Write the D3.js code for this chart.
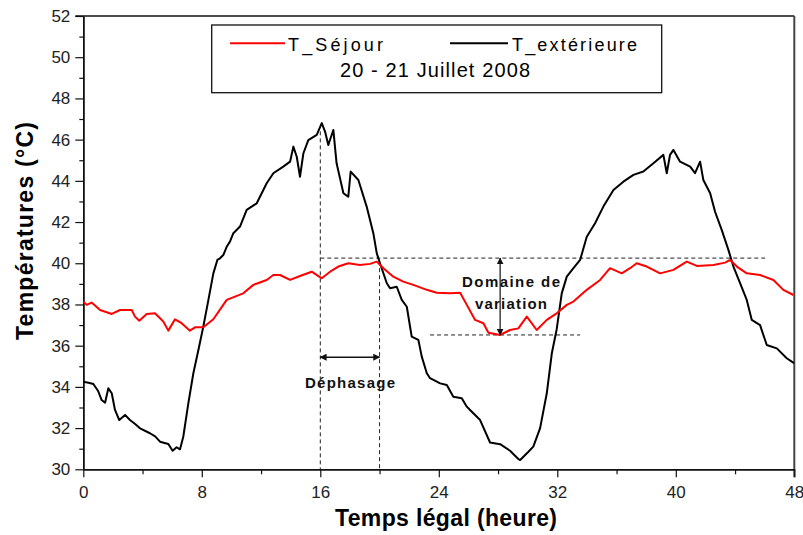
<!DOCTYPE html>
<html>
<head>
<meta charset="utf-8">
<script src="https://cdn.jsdelivr.net/npm/d3@7"></script>
<style>
  html, body { margin: 0; padding: 0; background: #fff; }
  svg { display: block; }
</style>
</head>
<body>
<svg id="chart" width="803" height="535"></svg>
<script>
// ---------------- DATA ----------------
const hoursExt = [0.0,0.35,0.68,1.0,1.24,1.47,1.69,1.92,2.14,2.43,2.82,3.15,3.5,3.83,4.5,4.85,5.18,5.74,6.03,6.3,6.53,6.75,7.09,7.43,7.77,8.1,8.44,8.78,9.05,9.23,9.45,9.68,9.9,10.13,10.58,11.03,11.71,12.38,12.83,13.5,13.96,14.18,14.41,14.63,14.86,15.19,15.76,16.1,16.32,16.54,16.88,17.1,17.56,17.89,18.05,18.57,19.13,19.58,19.81,20.03,20.49,20.71,21.16,21.5,21.84,22.17,22.62,22.85,23.19,23.41,24.09,24.54,24.98,25.55,25.89,26.11,26.79,27.46,28.14,28.81,29.37,29.49,30.05,30.38,30.84,31.29,31.63,31.96,32.3,32.64,33.09,33.54,33.99,34.55,35.11,35.79,36.46,37.14,37.81,38.49,39.16,39.39,39.61,39.84,40.29,40.97,41.3,41.64,41.86,42.32,42.65,43.1,43.55,43.89,44.34,44.79,45.13,45.69,46.14,46.82,47.49,47.98];
const tempExt = [34.25,34.2,34.14,33.8,33.36,33.23,33.93,33.69,32.88,32.39,32.64,32.39,32.2,31.99,31.75,31.6,31.34,31.23,30.9,31.07,30.97,31.58,33.2,34.66,35.79,36.92,38.2,39.51,40.16,40.24,40.4,40.8,41.05,41.46,41.78,42.59,42.91,43.88,44.37,44.69,44.93,45.66,45.17,44.2,45.34,45.98,46.23,46.8,46.39,45.74,46.47,44.85,43.4,43.23,44.45,44.04,42.75,41.46,40.49,40.0,39.03,38.79,38.86,38.22,37.89,36.44,36.28,35.47,34.66,34.42,34.17,34.09,33.52,33.45,33.04,32.88,32.39,31.3,31.22,30.9,30.5,30.45,30.85,31.1,32.0,33.69,35.63,36.8,38.54,39.35,39.76,40.16,41.29,41.94,42.75,43.56,43.96,44.29,44.45,44.85,45.26,44.37,45.26,45.5,44.93,44.69,44.37,44.93,44.04,43.4,42.5,41.62,40.65,39.84,39.03,38.22,37.25,37.0,36.03,35.87,35.39,35.15];

const hoursSej = [0.0,0.23,0.56,1.13,1.92,2.48,3.27,3.49,3.78,4.28,4.84,5.4,5.74,6.19,6.64,7.2,7.54,8.1,8.78,9.68,10.8,11.48,12.38,12.83,13.28,13.96,14.63,15.42,16.1,16.66,17.22,17.89,18.68,19.36,19.81,20.26,20.93,21.6,22.28,23.19,23.86,24.76,25.44,25.89,26.45,27.01,27.35,28.14,28.81,29.37,29.94,30.61,31.29,31.96,32.64,33.09,33.99,34.89,35.56,36.35,36.91,37.36,38.04,38.94,39.84,40.74,41.42,42.54,43.33,43.67,44.12,44.79,45.69,46.59,47.26,47.94];
const tempSej = [38.14,37.98,38.09,37.73,37.54,37.73,37.73,37.41,37.21,37.54,37.57,37.17,36.73,37.28,37.09,36.73,36.89,36.89,37.28,38.22,38.54,38.95,39.19,39.43,39.43,39.19,39.38,39.59,39.27,39.59,39.84,40.0,39.92,39.97,40.08,39.76,39.35,39.11,38.95,38.71,38.57,38.54,38.57,37.98,37.25,37.09,36.63,36.52,36.76,36.84,37.41,36.76,37.25,37.57,37.98,38.14,38.71,39.19,39.76,39.51,39.76,40.0,39.84,39.51,39.68,40.08,39.87,39.92,40.03,40.16,39.84,39.51,39.43,39.19,38.71,38.46];

const xMajorTicks = [0, 8, 16, 24, 32, 40, 48];
const xMinorTicks = [4, 12, 20, 28, 36, 44];
const yMajorTicks = [30, 32, 34, 36, 38, 40, 42, 44, 46, 48, 50, 52];
const yMinorTicks = [31, 33, 35, 37, 39, 41, 43, 45, 47, 49, 51];

const seriesNames = ["T_Séjour", "T_extérieure"];
const legendSubtitle = "20 - 21 Juillet 2008";
const xTitle = "Temps légal (heure)";
const yTitle = "Températures (°C)";

// annotation values (data coordinates)
const phaseStart = 16, phaseEnd = 20, phaseLevel = 35.44;
const phaseLineTopStart = 46.4, phaseLineTopEnd = 40.1;
const rangeHigh = 40.25, rangeLow = 36.52;
const rangeHighFrom = 16, rangeHighTo = 46.03;
const rangeLowFrom = 23.41, rangeLowTo = 33.54;
const rangeArrowHour = 28.14;
const phaseLabel = "Déphasage";
const rangeLabel = ["Domaine de", "variation"];

// ---------------- DRAW ----------------
const svg = d3.select("#chart");
const x = d3.scaleLinear().domain([0, 48]).range([83.3, 794.3]);
const y = d3.scaleLinear().domain([30, 52]).range([469.3, 16]);
const FONT = "'Liberation Sans', Arial, sans-serif";
const NARROW = "'Liberation Sans Narrow', 'Arial Narrow', 'Liberation Sans', Arial, sans-serif";

svg.append("rect").attr("width", 803).attr("height", 535).attr("fill", "#fff");

// frame (top and right)
svg.append("line").attr("x1", x(0) - 8).attr("x2", x(48)).attr("y1", y(52)).attr("y2", y(52))
  .attr("stroke", "#111").attr("stroke-width", 1.5);
svg.append("line").attr("x1", x(48)).attr("x2", x(48)).attr("y1", y(52)).attr("y2", y(30) + 8)
  .attr("stroke", "#444").attr("stroke-width", 2);

// axes
function styleAxis(g, labels) {
  g.select(".domain").attr("stroke", "#111").attr("stroke-width", 1.5);
  g.selectAll(".tick line").attr("stroke", "#111").attr("stroke-width", 1.2);
  g.selectAll(".tick text").attr("font-family", FONT).attr("font-size", 17).attr("fill", "#222");
  if (!labels) g.selectAll(".tick text").remove();
}
const gxMinor = svg.append("g").attr("transform", `translate(0,${y(30)})`)
  .call(d3.axisBottom(x).tickValues(xMinorTicks).tickSize(5).tickSizeOuter(0));
styleAxis(gxMinor, false);
const gx = svg.append("g").attr("transform", `translate(0,${y(30)})`)
  .call(d3.axisBottom(x).tickValues(xMajorTicks).tickSize(8).tickPadding(9).tickSizeOuter(0).tickFormat(d3.format("d")));
styleAxis(gx, true);

const gyMinor = svg.append("g").attr("transform", `translate(${x(0)},0)`)
  .call(d3.axisLeft(y).tickValues(yMinorTicks).tickSize(4).tickSizeOuter(0));
styleAxis(gyMinor, false);
const gy = svg.append("g").attr("transform", `translate(${x(0)},0)`)
  .call(d3.axisLeft(y).tickValues(yMajorTicks).tickSize(8).tickPadding(5).tickSizeOuter(0).tickFormat(d3.format("d")));
styleAxis(gy, true);

// axis titles
svg.append("text").attr("x", 446).attr("y", 526).attr("text-anchor", "middle")
  .attr("font-family", FONT).attr("font-weight", "bold").attr("font-size", 23)
  .attr("textLength", 222).attr("lengthAdjust", "spacing").attr("fill", "#000").text(xTitle);
svg.append("text").attr("transform", "translate(33,231) rotate(-90)").attr("text-anchor", "middle")
  .attr("font-family", FONT).attr("font-weight", "bold").attr("font-size", 23)
  .attr("textLength", 218).attr("lengthAdjust", "spacing").attr("fill", "#000").text(yTitle);

// annotations: dashed lines
const dash = svg.append("g").attr("stroke", "#222").attr("stroke-width", 1).attr("stroke-dasharray", "4,3").attr("fill", "none");
dash.append("line").attr("x1", x(phaseStart)).attr("x2", x(phaseStart)).attr("y1", y(phaseLineTopStart)).attr("y2", y(30));
dash.append("line").attr("x1", x(phaseEnd)).attr("x2", x(phaseEnd)).attr("y1", y(phaseLineTopEnd)).attr("y2", y(30));
dash.append("line").attr("x1", x(rangeHighFrom)).attr("x2", x(rangeHighTo)).attr("y1", y(rangeHigh)).attr("y2", y(rangeHigh));
dash.append("line").attr("x1", x(rangeLowFrom)).attr("x2", x(rangeLowTo)).attr("y1", y(rangeLow)).attr("y2", y(rangeLow));

// data lines
const line = d3.line().x(d => x(d[0])).y(d => y(d[1]));
const extData = hoursExt.map((h, i) => [h, tempExt[i]]);
const sejData = hoursSej.map((h, i) => [h, tempSej[i]]);
svg.append("path").datum(extData).attr("d", line).attr("fill", "none")
  .attr("stroke", "#000").attr("stroke-width", 2).attr("stroke-linejoin", "round");
svg.append("path").datum(sejData).attr("d", line).attr("fill", "none")
  .attr("stroke", "#ff0000").attr("stroke-width", 2).attr("stroke-linejoin", "round");

// arrows
const defs = svg.append("defs");
defs.append("marker").attr("id", "ah").attr("viewBox", "0 0 10 10").attr("refX", 9).attr("refY", 5)
  .attr("markerWidth", 7).attr("markerHeight", 7).attr("markerUnits", "userSpaceOnUse")
  .attr("orient", "auto-start-reverse")
  .append("path").attr("d", "M0,0 L10,5 L0,10 z").attr("fill", "#111");
svg.append("line").attr("x1", x(phaseStart)).attr("x2", x(phaseEnd)).attr("y1", y(phaseLevel)).attr("y2", y(phaseLevel))
  .attr("stroke", "#111").attr("stroke-width", 1.6)
  .attr("marker-start", "url(#ah)").attr("marker-end", "url(#ah)");
svg.append("line").attr("x1", x(rangeArrowHour)).attr("x2", x(rangeArrowHour)).attr("y1", y(rangeHigh)).attr("y2", y(rangeLow))
  .attr("stroke", "#111").attr("stroke-width", 1.2)
  .attr("marker-start", "url(#ah)").attr("marker-end", "url(#ah)");

// annotation texts
function annText(txt, cx, by, w) {
  svg.append("text").attr("x", cx).attr("y", by).attr("text-anchor", "middle")
    .attr("font-family", NARROW).attr("font-weight", "bold").attr("font-size", 15)
    .attr("textLength", w).attr("lengthAdjust", "spacing").attr("fill", "#111").text(txt);
}
annText(phaseLabel, 350, 388, 90);
annText(rangeLabel[0], 511, 286.5, 98);
annText(rangeLabel[1], 511, 309.3, 72);

// legend
const lg = svg.append("g");
lg.append("rect").attr("x", 211.7).attr("y", 25).attr("width", 450).attr("height", 67.7)
  .attr("fill", "#fff").attr("stroke", "#111").attr("stroke-width", 1.3);
lg.append("line").attr("x1", 230).attr("x2", 285).attr("y1", 43.3).attr("y2", 43.3)
  .attr("stroke", "#ff0000").attr("stroke-width", 2);
lg.append("text").attr("x", 288).attr("y", 50.7).attr("font-family", FONT).attr("font-size", 18)
  .attr("textLength", 95).attr("lengthAdjust", "spacing").attr("fill", "#000").text(seriesNames[0]);
lg.append("line").attr("x1", 450).attr("x2", 508).attr("y1", 43.3).attr("y2", 43.3)
  .attr("stroke", "#000").attr("stroke-width", 2);
lg.append("text").attr("x", 512).attr("y", 50.7).attr("font-family", FONT).attr("font-size", 18)
  .attr("textLength", 125).attr("lengthAdjust", "spacing").attr("fill", "#000").text(seriesNames[1]);
lg.append("text").attr("x", 340).attr("y", 77.3).attr("font-family", FONT).attr("font-size", 20)
  .attr("textLength", 190).attr("lengthAdjust", "spacing").attr("fill", "#000").text(legendSubtitle);
</script>
</body>
</html>
